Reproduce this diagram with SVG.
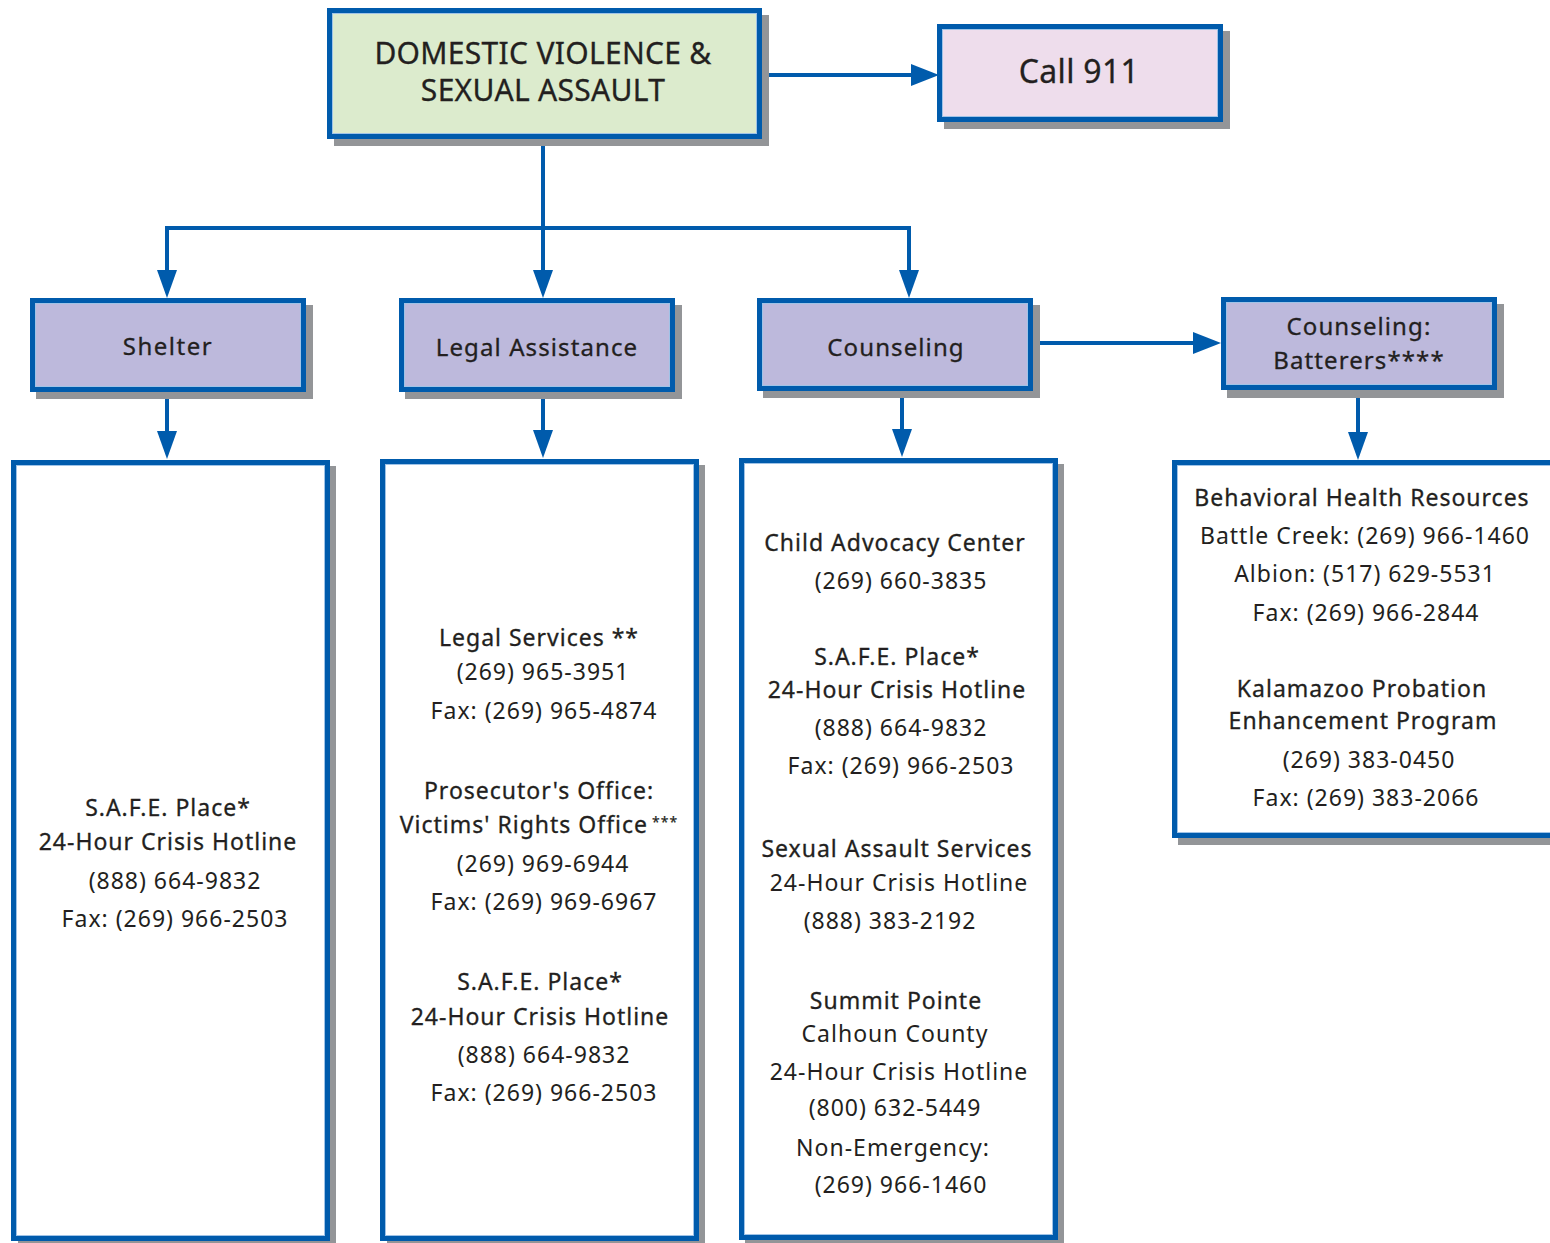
<svg xmlns="http://www.w3.org/2000/svg" width="1550" height="1243" viewBox="0 0 1550 1243">
<style>
.sh{fill:#939598}
.bx{stroke:#005BAC;stroke-width:5}
.in{fill:none;stroke:#9FC3E7;stroke-width:1}
.g{fill:#DCEBCD}.p{fill:#EEDDEC}.v{fill:#BDB9DC}.w{fill:#FFFFFF}
text{font-family:"Noto Sans","DejaVu Sans",sans-serif;fill:#231F20;text-anchor:middle}
.t{font-size:23px;letter-spacing:1px}
.h{font-size:23px;stroke:#231F20;stroke-width:0.3;letter-spacing:1px}
.n{font-size:24px;stroke:#231F20;stroke-width:0.3;letter-spacing:1.1px}
.big{font-size:30px;stroke:#231F20;stroke-width:0.3;letter-spacing:0.3px}
.ln{fill:none;stroke:#005BAC;stroke-width:4}
</style>
<rect width="1550" height="1243" fill="#FFFFFF"/>

<g id="connectors">
<line class="ln" x1="768" y1="75" x2="911" y2="75"/>
<path d="M911,64 L939,75 L911,86 Z" fill="#005BAC"/>
<polyline class="ln" points="543,146 543,228"/>
<polyline class="ln" points="167,270 167,228 909,228 909,270"/>
<line class="ln" x1="543" y1="228" x2="543" y2="270"/>
<path d="M157,270 L167,298 L177,270 Z" fill="#005BAC"/>
<path d="M533,270 L543,298 L553,270 Z" fill="#005BAC"/>
<path d="M899,270 L909,298 L919,270 Z" fill="#005BAC"/>
<line class="ln" x1="1040" y1="343" x2="1193" y2="343"/>
<path d="M1193,332 L1221,343 L1193,354 Z" fill="#005BAC"/>
<line class="ln" x1="167" y1="398" x2="167" y2="431"/>
<path d="M157,431 L167,459 L177,431 Z" fill="#005BAC"/>
<line class="ln" x1="543" y1="398" x2="543" y2="430"/>
<path d="M533,430 L543,458 L553,430 Z" fill="#005BAC"/>
<line class="ln" x1="902" y1="397" x2="902" y2="429"/>
<path d="M892,429 L902,457 L912,429 Z" fill="#005BAC"/>
<line class="ln" x1="1358" y1="397" x2="1358" y2="432"/>
<path d="M1348,432 L1358,460 L1368,432 Z" fill="#005BAC"/>
</g>

<g id="main">
<rect class="sh" x="334" y="15" width="435" height="131"/>
<rect class="bx g" x="329.5" y="10.5" width="430" height="126"/>
<rect class="in" x="332.5" y="13.5" width="424" height="120"/>
<text class="big" x="543" y="64">DOMESTIC VIOLENCE &amp;</text>
<text class="big" x="543" y="101">SEXUAL ASSAULT</text>
</g>

<g id="call911">
<rect class="sh" x="944" y="31" width="286" height="98"/>
<rect class="bx p" x="939.5" y="26.5" width="281" height="93"/>
<rect class="in" x="942.5" y="29.5" width="275" height="87"/>
<text class="big" x="1079" y="83" style="font-size:32px">Call 911</text>
</g>

<g id="shelter">
<rect class="sh" x="36" y="305" width="277" height="94"/>
<rect class="bx v" x="32.5" y="300.5" width="271" height="89"/>
<rect class="in" x="35.5" y="303.5" width="265" height="83"/>
<text class="n" x="168" y="355" style="letter-spacing:1.5px">Shelter</text>
</g>

<g id="legal">
<rect class="sh" x="405" y="305" width="277" height="94"/>
<rect class="bx v" x="401.5" y="300.5" width="271" height="89"/>
<rect class="in" x="404.5" y="303.5" width="265" height="83"/>
<text class="n" x="537" y="356">Legal Assistance</text>
</g>

<g id="counseling">
<rect class="sh" x="763" y="305" width="277" height="93"/>
<rect class="bx v" x="759.5" y="300.5" width="271" height="88"/>
<rect class="in" x="762.5" y="303.5" width="265" height="82"/>
<text class="n" x="896" y="356">Counseling</text>
</g>

<g id="batterers">
<rect class="sh" x="1227" y="304" width="277" height="94"/>
<rect class="bx v" x="1223.5" y="299.5" width="271" height="88"/>
<rect class="in" x="1226.5" y="302.5" width="265" height="82"/>
<text class="n" x="1359" y="335">Counseling:</text>
<text class="n" x="1359" y="369">Batterers****</text>
</g>

<g id="shelter-list">
<rect class="sh" x="18" y="466" width="318" height="780"/>
<rect class="bx w" x="13.5" y="462.5" width="314" height="776"/>
<rect class="in" x="16.5" y="465.5" width="308" height="770"/>
<text class="h" x="168" y="816">S.A.F.E. Place*</text>
<text class="h" x="168" y="850">24-Hour Crisis Hotline</text>
<text class="t" x="175" y="889">(888) 664-9832</text>
<text class="t" x="175" y="927">Fax: (269) 966-2503</text>
</g>

<g id="legal-list">
<rect class="sh" x="387" y="465" width="318" height="781"/>
<rect class="bx w" x="382.5" y="461.5" width="314" height="777"/>
<rect class="in" x="385.5" y="464.5" width="308" height="771"/>
<text class="h" x="539" y="646">Legal Services **</text>
<text class="t" x="543" y="680">(269) 965-3951</text>
<text class="t" x="544" y="719">Fax: (269) 965-4874</text>
<text class="h" x="539" y="799">Prosecutor's Office:</text>
<text class="h" x="539" y="833">Victims' Rights Office<tspan dx="4" dy="-6" style="font-size:14px;stroke-width:0.2">***</tspan></text>
<text class="t" x="543" y="872">(269) 969-6944</text>
<text class="t" x="544" y="910">Fax: (269) 969-6967</text>
<text class="h" x="540" y="990">S.A.F.E. Place*</text>
<text class="h" x="540" y="1025">24-Hour Crisis Hotline</text>
<text class="t" x="544" y="1063">(888) 664-9832</text>
<text class="t" x="544" y="1101">Fax: (269) 966-2503</text>
</g>

<g id="counseling-list">
<rect class="sh" x="745" y="464" width="319" height="782"/>
<rect class="bx w" x="741.5" y="460.5" width="314" height="777"/>
<rect class="in" x="744.5" y="463.5" width="308" height="771"/>
<text class="h" x="895" y="551">Child Advocacy Center</text>
<text class="t" x="901" y="589">(269) 660-3835</text>
<text class="h" x="897" y="665">S.A.F.E. Place*</text>
<text class="h" x="897" y="698">24-Hour Crisis Hotline</text>
<text class="t" x="901" y="736">(888) 664-9832</text>
<text class="t" x="901" y="774">Fax: (269) 966-2503</text>
<text class="h" x="897" y="857">Sexual Assault Services</text>
<text class="t" x="899" y="891">24-Hour Crisis Hotline</text>
<text class="t" x="890" y="929">(888) 383-2192</text>
<text class="h" x="896" y="1009">Summit Pointe</text>
<text class="t" x="895" y="1042">Calhoun County</text>
<text class="t" x="899" y="1080">24-Hour Crisis Hotline</text>
<text class="t" x="895" y="1116">(800) 632-5449</text>
<text class="t" x="893" y="1156">Non-Emergency:</text>
<text class="t" x="901" y="1193">(269) 966-1460</text>
</g>

<g id="batterers-list">
<rect class="sh" x="1178" y="467" width="380" height="378"/>
<rect class="bx w" x="1174.5" y="462.5" width="380" height="373"/>
<rect class="in" x="1177.5" y="465.5" width="374" height="367"/>
<text class="h" x="1362" y="506">Behavioral Health Resources</text>
<text class="t" x="1365" y="544">Battle Creek: (269) 966-1460</text>
<text class="t" x="1365" y="582">Albion: (517) 629-5531</text>
<text class="t" x="1366" y="621">Fax: (269) 966-2844</text>
<text class="h" x="1362" y="697">Kalamazoo Probation</text>
<text class="h" x="1363" y="729">Enhancement Program</text>
<text class="t" x="1369" y="768">(269) 383-0450</text>
<text class="t" x="1366" y="806">Fax: (269) 383-2066</text>
</g>
</svg>
